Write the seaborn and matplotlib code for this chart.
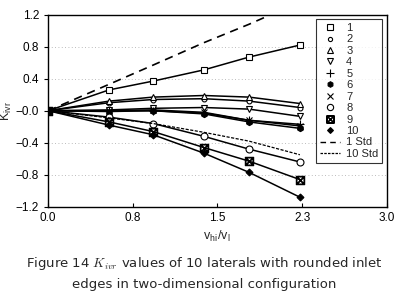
import numpy as np
import pandas as pd
import matplotlib
matplotlib.use("Agg")
import matplotlib.pyplot as plt
import seaborn as sns
from matplotlib.lines import Line2D

# ----------------------------------------------------------
# data
# ----------------------------------------------------------
vel_ratio = [0.0, 0.54, 0.93, 1.38, 1.78, 2.23]

k1 = [0.0, 0.26, 0.37, 0.51, 0.67, 0.82]
k2 = [0.0, 0.10, 0.14, 0.15, 0.12, 0.04]
k3 = [0.0, 0.12, 0.17, 0.19, 0.17, 0.09]
k4 = [0.0, 0.01, 0.03, 0.04, 0.02, -0.07]
k5 = [0.0, 0.00, 0.00, -0.03, -0.12, -0.17]
k6 = [0.0, -0.01, 0.00, -0.04, -0.14, -0.22]
k7 = [0.0, 0.00, 0.01, -0.02, -0.12, -0.19]
k8 = [0.0, -0.08, -0.16, -0.32, -0.48, -0.64]
k9 = [0.0, -0.14, -0.26, -0.46, -0.63, -0.86]
k10 = [0.0, -0.18, -0.30, -0.53, -0.77, -1.08]
std1 = [0.0, 0.33, 0.57, 0.85, 1.08, 1.36]
std10 = [0.0, -0.09, -0.16, -0.27, -0.38, -0.55]

series_names = ['1', '2', '3', '4', '5', '6', '7', '8', '9', '10']
series_vals = [k1, k2, k3, k4, k5, k6, k7, k8, k9, k10]

x_ticks = [0.0, 0.75, 1.5, 2.25, 3.0]
x_ticklabels = ['0.0', '0.8', '1.5', '2.3', '3.0']
y_ticks = [-1.2, -0.8, -0.4, 0.0, 0.4, 0.8, 1.2]
y_ticklabels = ['\u22121.2', '\u22120.8', '\u22120.4', '\u22120.0', '0.4', '0.8', '1.2']

# ----------------------------------------------------------
# style
# ----------------------------------------------------------
sns.set_style('ticks')
plt.rcParams['font.family'] = ['Liberation Sans', 'DejaVu Sans']
plt.rcParams['mathtext.fontset'] = 'cm'

markers = ['s', 'o', '^', 'v', '+', 'h', 'x', 'o', r'$\boxtimes$', 'D']
msizes = [5, 3.5, 5, 5, 6, 4.5, 5, 5, 6, 3.5]
filled = [False, False, False, False, False, True, False, False, False, True]

fig = plt.figure(figsize=(4.08, 3.05), dpi=100)
ax = fig.add_axes([0.118, 0.322, 0.830, 0.630])

for name, vals, m, ms, f in zip(series_names, series_vals, markers, msizes, filled):
    df = pd.DataFrame({'x': vel_ratio, 'K': vals})
    sns.lineplot(data=df, x='x', y='K', ax=ax, color='black', lw=1.1,
                 marker=m, markersize=ms, markeredgecolor='black',
                 markerfacecolor='black' if f else 'white', markeredgewidth=0.8)

df1 = pd.DataFrame({'x': vel_ratio, 'K': std1})
sns.lineplot(data=df1, x='x', y='K', ax=ax, color='black', lw=1.2,
             linestyle=(0, (5, 3.5)))
df10 = pd.DataFrame({'x': vel_ratio, 'K': std10})
sns.lineplot(data=df10, x='x', y='K', ax=ax, color='black', lw=0.9,
             linestyle=(0, (2.5, 1.2)))

# sparse dotted grid
for yy in [-0.8, -0.4, 0.4, 0.8]:
    ax.axhline(yy, color='0.65', lw=0.6, ls=(0, (1, 3)), zorder=0)

ax.set_xlim(0, 3.0)
ax.set_ylim(-1.2, 1.2)
ax.set_xticks(x_ticks)
ax.set_xticklabels(x_ticklabels)
ax.set_yticks(y_ticks)
ax.set_yticklabels(y_ticklabels)
ax.tick_params(labelsize=8.5, length=3, width=0.8, colors='black')
ax.tick_params(axis='x', direction='in')
for s in ax.spines.values():
    s.set_linewidth(1.0)
    s.set_color('black')

ax.set_xlabel(r'v$_\mathregular{hi}$/v$_\mathregular{l}$', fontsize=9, labelpad=4)
ax.set_ylabel(r'K$_\mathregular{ivr}$', fontsize=9, labelpad=1)

# legend: markers only, then the two std lines
handles = []
for m, ms, f in zip(markers, msizes, filled):
    handles.append(Line2D([], [], ls='None', marker=m, color='black', markersize=ms - 0.5,
                          markerfacecolor='black' if f else 'white', markeredgewidth=0.8))
handles.append(Line2D([], [], color='black', lw=1.0, ls=(0, (4, 3))))
handles.append(Line2D([], [], color='black', lw=0.9, ls=(0, (2, 1))))
labels = series_names + ['1 Std', '10 Std']
leg = ax.legend(handles, labels, loc='upper right', fontsize=8, frameon=True, fancybox=False,
                edgecolor='black', handlelength=1.8, labelspacing=0.13, borderpad=0.35,
                borderaxespad=0.4, handletextpad=0.6)
leg.get_frame().set_linewidth(0.8)

fig.text(0.5, 0.125, r'Figure 14 $K_{ivr}$ values of 10 laterals with rounded inlet',
         ha='center', fontsize=9.5, family='DejaVu Sans')
fig.text(0.5, 0.055, 'edges in two-dimensional configuration',
         ha='center', fontsize=9.5, family='DejaVu Sans')

fig.savefig('out.png', dpi=100)
